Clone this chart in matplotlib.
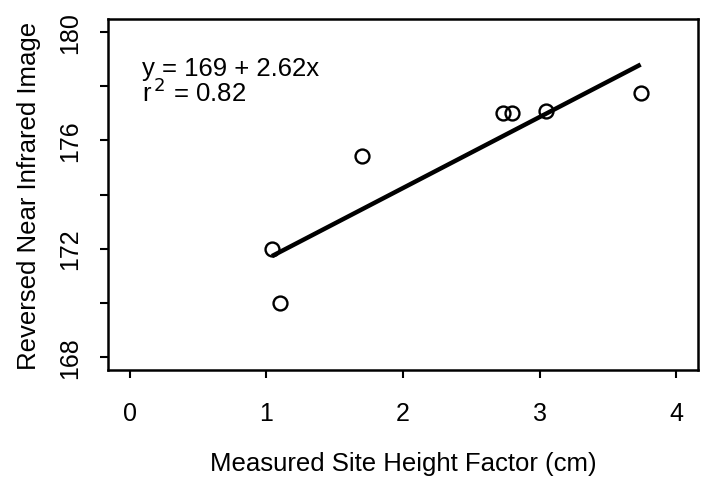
import matplotlib
matplotlib.use("Agg")
import matplotlib.pyplot as plt
import numpy as np

plt.rcParams['font.family'] = ['Liberation Sans', 'DejaVu Sans']

# data
height_factor = [1.04, 1.10, 1.70, 2.73, 2.80, 3.05, 3.74]
nir_value = [172.0, 170.0, 175.43, 177.0, 177.0, 177.1, 177.76]
intercept = 169.0
slope = 2.62
eq_text = "y = 169 + 2.62x"
r2_text = "r$^{\\,2}$ = 0.82"
x_ticks = [0, 1, 2, 3, 4]
y_ticks = [168, 170, 172, 174, 176, 178, 180]
y_labels = ["168", "", "172", "", "176", "", "180"]

fig = plt.figure(figsize=(7.07, 4.81), dpi=100)
ax = fig.add_axes([0.1528, 0.2287, 0.8345, 0.7297])

ax.plot(height_factor, nir_value, 'o', mfc='none', mec='black', ms=10, mew=1.7)
xx = np.array([min(height_factor), max(height_factor)])
ax.plot(xx, intercept + slope * xx, color='black', lw=3.2, solid_capstyle='butt')

ax.set_xlim(-0.16, 4.16)
ax.set_ylim(167.52, 180.48)
ax.set_xticks(x_ticks)
ax.set_yticks(y_ticks)
ax.set_yticklabels(y_labels, rotation=90, va='center')
ax.tick_params(direction='out', length=6, width=1.5, labelsize=18)
ax.tick_params(axis='x', pad=16)
ax.tick_params(axis='y', pad=13)
for s in ax.spines.values():
    s.set_linewidth(1.8)

ax.text(0.09, 178.67, eq_text, fontsize=18.5, va='center', ha='left')
ax.text(0.09, 177.8, r2_text, fontsize=18.5, va='center', ha='left')

ax.set_xlabel("Measured Site Height Factor (cm)", fontsize=18.5, labelpad=19)
ax.set_ylabel("Reversed Near Infrared Image", fontsize=18.5, labelpad=12)

fig.savefig("out.png", dpi=100)
